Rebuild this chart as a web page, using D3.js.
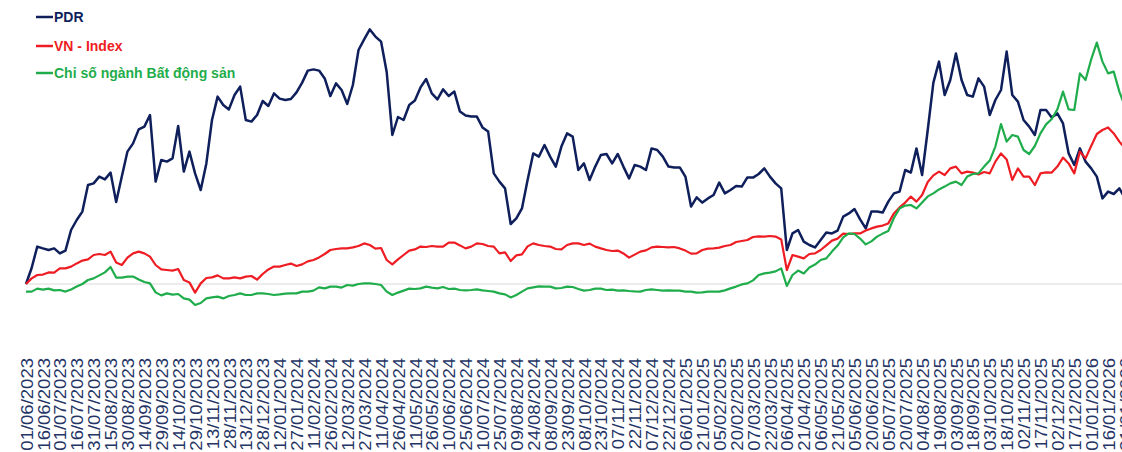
<!DOCTYPE html>
<html>
<head>
<meta charset="utf-8">
<script src="https://cdn.jsdelivr.net/npm/d3@7"></script>
<style>
  body { margin: 0; background: #fff; }
  svg { display: block; font-family: "Liberation Sans", Arial, sans-serif; }
</style>
</head>
<body>
<div id="chart"></div>
<script>
// dates sampled every 5 days
let dates = [
  "2023-06-01","2023-06-06","2023-06-11","2023-06-16","2023-06-21","2023-06-26","2023-07-01","2023-07-06","2023-07-11","2023-07-16",
  "2023-07-21","2023-07-26","2023-07-31","2023-08-05","2023-08-10","2023-08-15","2023-08-20","2023-08-25","2023-08-30","2023-09-04",
  "2023-09-09","2023-09-14","2023-09-19","2023-09-24","2023-09-29","2023-10-04","2023-10-09","2023-10-14","2023-10-19","2023-10-24",
  "2023-10-29","2023-11-03","2023-11-08","2023-11-13","2023-11-18","2023-11-23","2023-11-28","2023-12-03","2023-12-08","2023-12-13",
  "2023-12-18","2023-12-23","2023-12-28","2024-01-02","2024-01-07","2024-01-12","2024-01-17","2024-01-22","2024-01-27","2024-02-01",
  "2024-02-06","2024-02-11","2024-02-16","2024-02-21","2024-02-26","2024-03-02","2024-03-07","2024-03-12","2024-03-17","2024-03-22",
  "2024-03-27","2024-04-01","2024-04-06","2024-04-11","2024-04-16","2024-04-21","2024-04-26","2024-05-01","2024-05-06","2024-05-11",
  "2024-05-16","2024-05-21","2024-05-26","2024-05-31","2024-06-05","2024-06-10","2024-06-15","2024-06-20","2024-06-25","2024-06-30",
  "2024-07-05","2024-07-10","2024-07-15","2024-07-20","2024-07-25","2024-07-30","2024-08-04","2024-08-09","2024-08-14","2024-08-19",
  "2024-08-24","2024-08-29","2024-09-03","2024-09-08","2024-09-13","2024-09-18","2024-09-23","2024-09-28","2024-10-03","2024-10-08",
  "2024-10-13","2024-10-18","2024-10-23","2024-10-28","2024-11-02","2024-11-07","2024-11-12","2024-11-17","2024-11-22","2024-11-27",
  "2024-12-02","2024-12-07","2024-12-12","2024-12-17","2024-12-22","2024-12-27","2025-01-01","2025-01-06","2025-01-11","2025-01-16",
  "2025-01-21","2025-01-26","2025-01-31","2025-02-05","2025-02-10","2025-02-15","2025-02-20","2025-02-25","2025-03-02","2025-03-07",
  "2025-03-12","2025-03-17","2025-03-22","2025-03-27","2025-04-01","2025-04-06","2025-04-11","2025-04-16","2025-04-21","2025-04-26",
  "2025-05-01","2025-05-06","2025-05-11","2025-05-16","2025-05-21","2025-05-26","2025-05-31","2025-06-05","2025-06-10","2025-06-15",
  "2025-06-20","2025-06-25","2025-06-30","2025-07-05","2025-07-10","2025-07-15","2025-07-20","2025-07-25","2025-07-30","2025-08-04",
  "2025-08-09","2025-08-14","2025-08-19","2025-08-24","2025-08-29","2025-09-03","2025-09-08","2025-09-13","2025-09-18","2025-09-23",
  "2025-09-28","2025-10-03","2025-10-08","2025-10-13","2025-10-18","2025-10-23","2025-10-28","2025-11-02","2025-11-07","2025-11-12",
  "2025-11-17","2025-11-22","2025-11-27","2025-12-02","2025-12-07","2025-12-12","2025-12-17","2025-12-22","2025-12-27","2026-01-01",
  "2026-01-06","2026-01-11","2026-01-16","2026-01-21","2026-01-26","2026-01-31"
]

// % change since 01/06/2023
let pdr = [
  0, 8, 18.7, 17.8, 17, 17.8, 15.3, 16.7, 27, 32,
  36.2, 49.5, 50.3, 53.7, 52.3, 55.7, 41, 53.7, 66.2, 70.3,
  77.3, 78.7, 84.5, 51.2, 62, 61.2, 62.8, 79, 56.2, 66.2,
  55.3, 47, 60.3, 82, 93.7, 89.5, 87.3, 94.5, 98.7, 82,
  81.2, 84.5, 91.5, 89, 95.3, 92.7, 92, 92.5, 95.8, 100.7,
  106.7, 107.3, 106.7, 102.8, 94, 100.3, 97, 90, 99.5, 117,
  122.3, 127.3, 123.7, 121.2, 106, 74.5, 83.5, 82, 89.5, 91.7,
  98.3, 102.5, 95.3, 92.3, 97.3, 94, 96.2, 86.2, 84.2, 83.7,
  83.7, 78.3, 76.2, 55.3, 51.2, 47.8, 30, 32.8, 37.8, 52,
  65.3, 63.7, 69.5, 63.7, 58.7, 68.7, 75.3, 73.7, 57, 60.3,
  52, 58.7, 64.5, 65, 60.3, 65, 58.7, 52.8, 59.5, 58.7,
  57, 67.8, 67, 63.7, 58.7, 58.3, 58.3, 53.7, 38.7, 43.3,
  40.7, 42.8, 44.5, 50.7, 45.3, 47, 49, 48.7, 53.3, 53.2,
  55, 57.8, 53.7, 50.3, 47.8, 17, 25.3, 27, 21.2, 19.5,
  18.3, 22, 25.7, 25.3, 26.7, 33.7, 35.3, 37.5, 32.3, 27.8,
  36.2, 36.2, 35.7, 41.2, 45.3, 46.2, 57, 55.7, 67.8, 54.5,
  77, 100.7, 111.2, 94.5, 102, 115.3, 102, 94.5, 93.7, 102.8,
  98.7, 84.5, 92, 97, 116.2, 94.5, 91.2, 82, 78.7, 74.5,
  87, 87, 83.3, 85.3, 80.3, 65.3, 59.5, 67.8, 61.2, 57.8,
  53.7, 42.8, 46.2, 45, 47.8, 42.8
]

let vnIndex = [
  0, 2.8, 4.5, 4.7, 5.8, 5.7, 7.8, 7.8, 8.7, 10.3,
  11.7, 12.3, 14.5, 15, 14.5, 16.2, 10.7, 9.5, 13.2, 15.3,
  16.2, 15.3, 13.7, 9.5, 7.3, 7, 6.7, 7.5, 2, 0.8,
  -4.3, 0.3, 3, 3.3, 4.3, 2.8, 2.8, 3.3, 2.8, 3.7,
  4, 2.2, 5, 7.3, 8.7, 8.7, 9.5, 10.2, 9, 9.8,
  11.3, 12, 13.3, 15, 17, 17.5, 17.8, 17.8, 18.3, 19,
  20.3, 19.5, 17.7, 18, 12, 9.8, 12.3, 14.5, 16.7, 17.3,
  18.7, 18.5, 19, 18.7, 18.7, 20.7, 20.7, 19.3, 17.8, 18.7,
  20.3, 20, 19, 18.7, 15.3, 15.8, 11.5, 14.3, 14.8, 18.8,
  20.3, 19.5, 19, 18.7, 17.5, 17.3, 19.5, 20.3, 20.3, 19.5,
  20.2, 18.7, 17.8, 17, 16.5, 16.7, 15.3, 13.2, 14.7, 16.2,
  16.8, 18.3, 18.7, 18.5, 18.3, 18.5, 17.8, 16.7, 15.2, 15.3,
  17, 17.7, 17.8, 18.2, 19, 19.5, 21, 21.5, 22, 23.5,
  23.8, 23.7, 24, 23.7, 22.3, 7, 14.5, 13.7, 12.8, 15,
  15.3, 17, 19.3, 21.7, 22.7, 25.2, 25, 25.3, 25.3, 26.7,
  27.8, 28.7, 29.2, 30.3, 35.3, 38.3, 40.7, 43.7, 41.2, 44.5,
  51, 54.3, 56.2, 54.5, 57.8, 58.7, 55.3, 56.2, 55.7, 54.8,
  56, 55.3, 61.2, 65.3, 62.3, 52, 57.8, 53.7, 53.7, 49.5,
  55.3, 55.8, 55.7, 58.7, 63.2, 60.3, 55.3, 66.2, 62.8, 69,
  75, 77, 78.3, 75.3, 71.2, 67.8
]

let realEstate = [
  -3.8, -3.8, -2.3, -2.8, -2.3, -3.2, -3, -3.8, -2.7, -1.3,
  0, 2, 2.8, 4.3, 5.8, 8.5, 3.2, 3.2, 3.7, 3.7,
  2.3, 1, 0.3, -4.2, -5.7, -4.7, -5.3, -5, -7.2, -7.8,
  -10.5, -9.5, -7.2, -6.7, -6.3, -7.2, -6, -5.5, -4.7, -5.5,
  -5.5, -4.7, -4.7, -5, -5.5, -5.2, -4.8, -4.7, -4.7, -3.8,
  -3.8, -3.3, -1.7, -2.2, -1.3, -1.3, -1.8, -0.5, -0.8, 0,
  0.3, 0.3, 0, -0.5, -3.8, -5.5, -4.3, -3.3, -2.3, -2.5,
  -2.2, -1.3, -1.8, -2.2, -1.5, -2.5, -2.3, -3, -3.2, -3,
  -2.7, -3.2, -3.5, -3.8, -4.7, -5.2, -6.7, -5.5, -3.8, -2.2,
  -1.7, -1.2, -1.3, -1.3, -2.2, -2, -1.3, -1.5, -2.5, -3.3,
  -3, -2.3, -2.3, -3, -2.8, -3.3, -3.2, -3.5, -3.7, -3.8,
  -3, -2.7, -3, -3.3, -3.2, -3.3, -3.3, -3.8, -3.8, -4.3,
  -4.2, -3.8, -3.8, -3.8, -3.2, -2.2, -1.3, -0.2, 0.3, 1.8,
  4.5, 5.3, 5.7, 6.3, 7.8, -1, 4.5, 6.7, 5.3, 8.3,
  9.7, 12, 12.8, 16.2, 19.2, 23.3, 25.3, 25, 22.7, 19.8,
  21.3, 23.7, 25.2, 26.5, 33, 37.8, 39.2, 39.5, 37.8, 40.8,
  43.8, 45.3, 47.3, 48.7, 50.3, 51.2, 49.5, 53.7, 55, 55.3,
  58.7, 61.7, 68.7, 80, 71.2, 74.5, 73.7, 67, 65, 69,
  75.3, 79.8, 82.5, 87.3, 96.2, 87.3, 87, 105.3, 102, 112.3,
  120.7, 111.2, 105.3, 106.2, 96.2, 88.7
]

let tickLabels = [
  "01/06/2023","16/06/2023","01/07/2023","16/07/2023","31/07/2023","15/08/2023","30/08/2023","14/09/2023","29/09/2023","14/10/2023",
  "29/10/2023","13/11/2023","28/11/2023","13/12/2023","28/12/2023","12/01/2024","27/01/2024","11/02/2024","26/02/2024","12/03/2024",
  "27/03/2024","11/04/2024","26/04/2024","11/05/2024","26/05/2024","10/06/2024","25/06/2024","10/07/2024","25/07/2024","09/08/2024",
  "24/08/2024","08/09/2024","23/09/2024","08/10/2024","23/10/2024","07/11/2024","22/11/2024","07/12/2024","22/12/2024","06/01/2025",
  "21/01/2025","05/02/2025","20/02/2025","07/03/2025","22/03/2025","06/04/2025","21/04/2025","06/05/2025","21/05/2025","05/06/2025",
  "20/06/2025","05/07/2025","20/07/2025","04/08/2025","19/08/2025","03/09/2025","18/09/2025","03/10/2025","18/10/2025","02/11/2025",
  "17/11/2025","02/12/2025","17/12/2025","01/01/2026","16/01/2026","31/01/2026"
]

let seriesNames = ["PDR", "VN - Index", "Chỉ số ngành Bất động sản"]
let seriesColors = ["#0e1f5b", "#ee1d23", "#1fad4b"]

let width = 1122, height = 452

let svg = d3.select("#chart")
    .append("svg")
    .attr("width", width)
    .attr("height", height)

let parseDate = d3.timeParse("%Y-%m-%d")
let parseTick = d3.timeParse("%d/%m/%Y")

// x axis runs over the whole label range
let x = d3.scaleTime()
    .domain([parseDate("2023-06-01"), parseDate("2026-01-31")])
    .range([26, 1125])

let y = d3.scaleLinear()
    .domain([0, 100])
    .range([284, 84])

// zero line
svg.append("line")
    .attr("x1", 25)
    .attr("x2", width)
    .attr("y1", y(0))
    .attr("y2", y(0))
    .style("stroke", "#d9d9d9")
    .style("stroke-width", 1)

// rotated date labels, stretched a little along the reading direction
let xAxis = svg.append("g")
    .attr("transform", "translate(0,358)")
    .call(d3.axisBottom(x)
        .tickValues(tickLabels.map(parseTick))
        .tickFormat(d3.timeFormat("%d/%m/%Y"))
        .tickSize(0))

xAxis.select(".domain").remove()
xAxis.selectAll("text")
    .attr("transform", "rotate(-90) scale(1.09,1)")
    .attr("x", 0)
    .attr("y", 0)
    .attr("dy", "0.36em")
    .style("text-anchor", "end")
    .style("font-size", "17px")
    .style("font-family", "'Liberation Sans', Arial, sans-serif")
    .style("fill", "#243465")

let line = d3.line()
    .x(function(d, i) {return x(parseDate(dates[i]))})
    .y(function(d) {return y(d)})

let allSeries = [pdr, vnIndex, realEstate]
let widths = [2.5, 2.2, 2.2]

allSeries.forEach(function(s, k) {
    svg.append("path")
        .datum(s)
        .attr("d", line)
        .style("fill", "none")
        .style("stroke", seriesColors[k])
        .style("stroke-width", widths[k])
        .style("stroke-linejoin", "round")
})

// legend
let legendY = [17, 46, 73]
seriesNames.forEach(function(name, k) {
    svg.append("line")
        .attr("x1", 36)
        .attr("x2", 53)
        .attr("y1", legendY[k])
        .attr("y2", legendY[k])
        .style("stroke", seriesColors[k])
        .style("stroke-width", 2.5)
    svg.append("text")
        .attr("x", 54)
        .attr("y", legendY[k] + 5)
        .text(name)
        .style("font-size", "14px")
        .style("font-weight", "bold")
        .style("fill", seriesColors[k])
})
</script>
</body>
</html>
